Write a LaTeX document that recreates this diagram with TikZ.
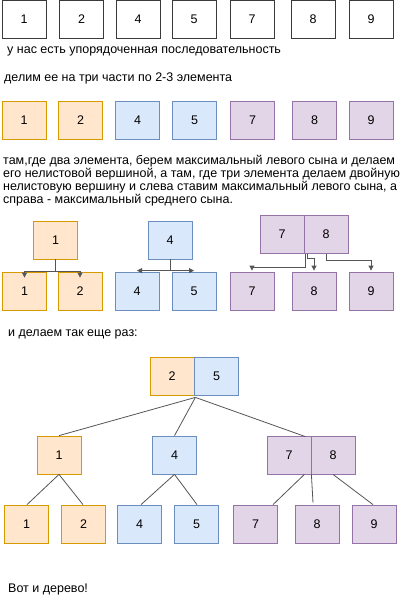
\documentclass[tikz,border=0pt]{standalone}
\usepackage{fontspec}
\setmainfont{Liberation Sans}
\usetikzlibrary{arrows.meta,calc}
\definecolor{ofill}{HTML}{FFE6CC}\definecolor{odraw}{HTML}{D79B00}
\definecolor{bfill}{HTML}{DAE8FC}\definecolor{bdraw}{HTML}{6C8EBF}
\definecolor{pfill}{HTML}{E1D5E7}\definecolor{pdraw}{HTML}{9673A6}
\definecolor{plain}{HTML}{3A3A3A}\definecolor{edge}{HTML}{555555}
\begin{document}
\begin{tikzpicture}[x=1pt,y=-1pt,
  box/.style={draw, minimum width=44pt, minimum height=38pt, inner sep=0pt, font=\fontsize{12.5}{14}\selectfont, line width=0.8pt},
  wbox/.style={box, draw=plain, fill=white},
  obox/.style={box, draw=odraw, fill=ofill},
  bbox/.style={box, draw=bdraw, fill=bfill},
  pbox/.style={box, draw=pdraw, fill=pfill},
  txt/.style={anchor=base west, inner sep=0pt, font=\fontsize{12.5}{14}\selectfont},
  con/.style={draw=edge, line width=0.8pt},
  arr/.style={con, -{Triangle[length=5pt,width=5pt]}}]
\useasboundingbox (0,0) rectangle (411,600);
% row 1
\node[wbox] (a1) at (24,19.5) {1};
\node[wbox] (a2) at (81.5,19.5) {2};
\node[wbox] (a3) at (138,19.5) {4};
\node[wbox] (a4) at (194,19.5) {5};
\node[wbox] (a5) at (252,19.5) {7};
\node[wbox] (a6) at (313,19.5) {8};
\node[wbox] (a7) at (371,19.5) {9};
\node[txt] (t1) at (7,53) {у нас есть упорядоченная последовательность};
\node[txt] (t2) at (4,81) {делим ее на три части по 2-3 элемента};
% row 2
\node[obox] (b1) at (24,120) {1};
\node[obox] (b2) at (80.5,120) {2};
\node[bbox] (b3) at (137.5,120) {4};
\node[bbox] (b4) at (194.5,120) {5};
\node[pbox] (b5) at (252.5,120) {7};
\node[pbox] (b6) at (314.5,120) {8};
\node[pbox] (b7) at (371,120) {9};
\node[txt] (p1) at (3,164) {там,где два элемента, берем максимальный левого сына и делаем};
\node[txt] (p2) at (3,177.3) {его нелистовой вершиной, а там, где три элемента делаем двойную};
\node[txt] (p3) at (3,190.6) {нелистовую вершину и слева ставим максимальный левого сына, а};
\node[txt] (p4) at (3,203.9) {справа - максимальный среднего сына.};
% section 3
\node[obox] (o1) at (55.5,240) {1};
\node[obox] (oc1) at (24.5,291) {1};
\node[obox] (oc2) at (80,291) {2};
\node[bbox] (u1) at (170,240) {4};
\node[bbox] (uc1) at (137,291) {4};
\node[bbox] (uc2) at (194,291) {5};
\node[pbox] (q7) at (282,234.5) {7};
\node[pbox] (q8) at (326,234.5) {8};
\node[pbox] (qc1) at (252,291) {7};
\node[pbox] (qc2) at (314,291) {8};
\node[pbox] (qc3) at (371,291) {9};
\draw[arr] (o1.south) -- ++(0,12) -| ($(oc1.north)+(0,6)$);
\draw[arr] (o1.south) -- ++(0,12) -| ($(oc2.north)+(0,6)$);
\draw[arr] (u1.south) |- ($(uc1.north)+(0,-1)$);
\draw[arr] (u1.south) |- ($(uc2.north)+(0,-1)$);
\draw[arr] ($(q8.south west)+(2,0)$) -- ++(0,13) -| ($(qc1.north)+(0,-1)$);
\draw[arr] ($(q8.south west)+(4,0)$) -- ++(0,4) -| ($(qc2.north)+(0,-1)$);
\draw[arr] (q8.south) -- ++(0,6) -| ($(qc3.north)+(0,-1)$);
\node[txt] (t3) at (8,336) {и делаем так еще раз:};
% tree
\node[obox] (r2) at (172,376) {2};
\node[bbox] (r5) at (216.5,376) {5};
\node[obox] (l1) at (59,455) {1};
\node[bbox] (l4) at (174.5,455) {4};
\node[pbox] (l7) at (289,455) {7};
\node[pbox] (l8) at (333,455) {8};
\node[obox] (m1) at (26.5,524) {1};
\node[obox] (m2) at (83.5,524) {2};
\node[bbox] (m4) at (139.5,524) {4};
\node[bbox] (m5) at (196.5,524) {5};
\node[pbox] (m7) at (255.5,524) {7};
\node[pbox] (m8) at (317,524) {8};
\node[pbox] (m9) at (374,524) {9};
\coordinate (rj) at ($(r2.south east)+(1,2)$);
\draw[con] (rj) -- (l1.north);
\draw[con] (rj) -- (l4.north);
\draw[con] (rj) -- ($(l7.north east)+(-6,1)$);
\draw[con] (l1.south) -- ($(m1.north)+(0.5,0)$);
\draw[con] (l1.south) -- ($(m2.north)+(-0.5,0)$);
\draw[con] (l4.south) -- ($(m4.north)+(1.5,0)$);
\draw[con] (l4.south) -- ($(m5.north)+(0.5,0)$);
\draw[con] ($(l7.south east)+(-7,0)$) -- ($(m7.north)+(17.5,0)$);
\draw[con] ($(l7.south east)+(0,0)$) -- ($(m8.north)+(-4,-2)$);
\draw[con] ($(l8.south)+(0,0)$) -- ($(m9.north)+(-1,0)$);
\node[txt] (t4) at (8,592) {Вот и дерево!};
\end{tikzpicture}
\end{document}
